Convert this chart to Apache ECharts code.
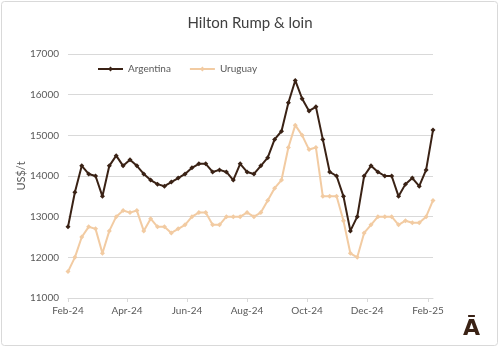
<!DOCTYPE html>
<html>
<head>
<meta charset="utf-8">
<script src="https://cdn.jsdelivr.net/npm/echarts@6/dist/echarts.min.js"></script>
<style>
  html, body { margin: 0; padding: 0; background: #fff; }
  #chart { width: 500px; height: 352px; }
</style>
</head>
<body>
<div id="chart"></div>
<script>
// weekly price observations
var dates = [
  '2024-02-01', '2024-02-08', '2024-02-15', '2024-02-22', '2024-02-29',
  '2024-03-07', '2024-03-14', '2024-03-21', '2024-03-28',
  '2024-04-04', '2024-04-11', '2024-04-18', '2024-04-25',
  '2024-05-02', '2024-05-09', '2024-05-16', '2024-05-23', '2024-05-30',
  '2024-06-06', '2024-06-13', '2024-06-20', '2024-06-27',
  '2024-07-04', '2024-07-11', '2024-07-18', '2024-07-25',
  '2024-08-01', '2024-08-08', '2024-08-15', '2024-08-22', '2024-08-29',
  '2024-09-05', '2024-09-12', '2024-09-19', '2024-09-26',
  '2024-10-03', '2024-10-10', '2024-10-17', '2024-10-24', '2024-10-31',
  '2024-11-07', '2024-11-14', '2024-11-21', '2024-11-28',
  '2024-12-05', '2024-12-12', '2024-12-19', '2024-12-26',
  '2025-01-02', '2025-01-09', '2025-01-16', '2025-01-23', '2025-01-30',
  '2025-02-06'
];
var argentina = [
  12750, 13600, 14250, 14050, 14000, 13500, 14250, 14500, 14250, 14400,
  14250, 14050, 13900, 13800, 13750, 13850, 13950, 14050, 14200, 14300,
  14300, 14100, 14150, 14100, 13900, 14300, 14100, 14050, 14250, 14450,
  14900, 15100, 15800, 16350, 15900, 15600, 15700, 14900, 14100, 14000,
  13500, 12650, 13000, 14000, 14250, 14100, 14000, 14000, 13500, 13800,
  13950, 13750, 14150, 15130
];
var uruguay = [
  11650, 12000, 12500, 12750, 12700, 12100, 12650, 13000, 13150, 13100,
  13150, 12650, 12950, 12750, 12750, 12600, 12700, 12800, 13000, 13100,
  13100, 12800, 12800, 13000, 13000, 13000, 13100, 13000, 13100, 13400,
  13700, 13900, 14700, 15250, 15000, 14650, 14700, 13500, 13500, 13500,
  12900, 12100, 12000, 12600, 12800, 13000, 13000, 13000, 12800, 12900,
  12850, 12850, 13000, 13400
];
var tickDates = ['2024-02-01', '2024-04-01', '2024-06-01', '2024-08-01', '2024-10-01', '2024-12-01', '2025-02-01'];
var tickLabels = ['Feb-24', 'Apr-24', 'Jun-24', 'Aug-24', 'Oct-24', 'Dec-24', 'Feb-25'];

var font = 'Lato, "Open Sans", sans-serif';
var DAY = 86400000;
var t0 = Date.UTC(2024, 1, 1);
function dayOf(s) {
  var p = s.split('-');
  return Math.round((Date.UTC(+p[0], +p[1] - 1, +p[2]) - t0) / DAY);
}
var tickDays = tickDates.map(dayOf);

function pairs(vals) {
  return vals.map(function (v, i) { return [dayOf(dates[i]), v]; });
}

var myChart = echarts.init(document.getElementById('chart'), null, { renderer: 'canvas' });
var option = {
  backgroundColor: '#fff',
  animation: false,
  textStyle: { fontFamily: font },
  title: {
    text: 'Hilton Rump & loin',
    left: 'center',
    top: 11,
    textStyle: { fontFamily: font, fontSize: 15, fontWeight: 'normal', color: '#404040' }
  },
  legend: {
    left: 92,
    top: 59,
    itemWidth: 25,
    itemHeight: 6,
    itemGap: 18,
    textStyle: { fontFamily: font, fontSize: 10, color: '#595959' },
    data: ['Argentina', 'Uruguay']
  },
  grid: { left: 68, right: 67, top: 54, bottom: 54, containLabel: false },
  xAxis: {
    type: 'value',
    min: 0,
    max: dayOf(dates[dates.length - 1]),
    axisLine: { show: true, lineStyle: { color: '#d9d9d9' } },
    axisTick: { show: true, customValues: tickDays, length: 4, lineStyle: { color: '#d9d9d9' } },
    axisLabel: {
      customValues: tickDays,
      margin: 8,
      fontSize: 10,
      color: '#595959',
      fontFamily: font,
      formatter: function (val) {
        var i = tickDays.indexOf(Math.round(val));
        return i >= 0 ? tickLabels[i] : '';
      }
    },
    splitLine: { show: false }
  },
  yAxis: {
    type: 'value',
    min: 11000,
    max: 17000,
    interval: 1000,
    name: 'US$/t',
    nameLocation: 'middle',
    nameGap: 41,
    nameMoveOverlap: false,
    nameTextStyle: { fontFamily: font, fontSize: 11, color: '#595959' },
    axisLine: { show: false },
    axisTick: { show: false },
    axisLabel: {
      fontSize: 10, color: '#595959', margin: 9, fontFamily: font,
      formatter: function (v) { return String(v); }
    },
    splitLine: { lineStyle: { color: '#d9d9d9', width: 1 } }
  },
  series: [
    {
      name: 'Argentina',
      type: 'line',
      data: pairs(argentina),
      symbol: 'diamond',
      symbolSize: 5,
      lineStyle: { color: '#3a2215', width: 2 },
      itemStyle: { color: '#3a2215' },
      z: 3
    },
    {
      name: 'Uruguay',
      type: 'line',
      data: pairs(uruguay),
      symbol: 'diamond',
      symbolSize: 5,
      lineStyle: { color: '#f2cba2', width: 2 },
      itemStyle: { color: '#f2cba2' },
      z: 2
    }
  ],
  graphic: [
    {
      type: 'rect',
      shape: { x: 1.5, y: 1.5, width: 496, height: 344, r: 3 },
      style: { fill: 'none', stroke: '#d9d9d9', lineWidth: 1 },
      silent: true
    },
    {
      type: 'text',
      left: 463,
      top: 318,
      style: { text: 'Ā', font: 'bold 22px "DejaVu Sans", sans-serif', fill: '#3a2215' }
    }
  ]
};
myChart.setOption(option);
</script>
</body>
</html>
